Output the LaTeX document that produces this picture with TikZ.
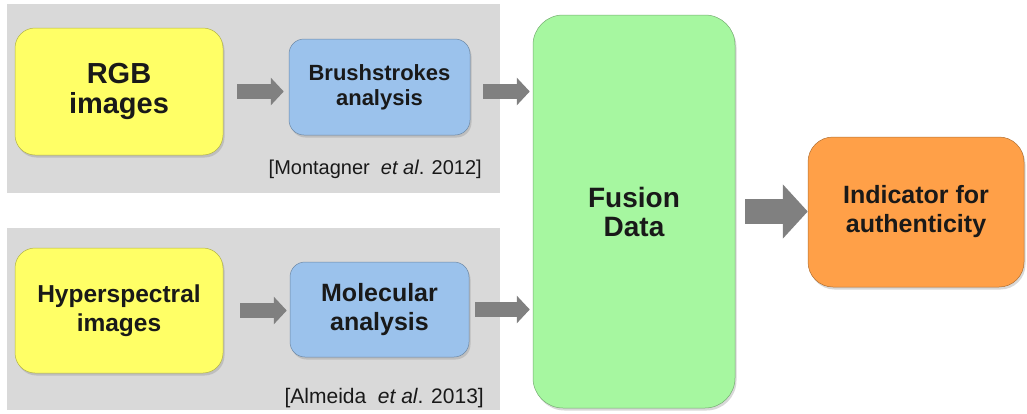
\documentclass[tikz,border=0pt]{standalone}
\usepackage{fontspec}
\setmainfont{Liberation Sans}
\usetikzlibrary{arrows.meta,shadows}

\definecolor{panelgray}{RGB}{217,217,217}
\definecolor{arrowgray}{RGB}{128,128,128}
\definecolor{srcyellow}{RGB}{255,255,102}
\definecolor{anablue}{RGB}{155,194,236}
\definecolor{fusegreen}{RGB}{166,247,160}
\definecolor{indorange}{RGB}{255,160,72}

\tikzset{
  box/.style={draw=#1!70!black, line width=0.5pt, fill=#1, align=center,
    inner sep=0pt, text=black!90,
    drop shadow={opacity=0.3, shadow xshift=1.5pt, shadow yshift=-2.5pt}},
  blockarrow/.style={draw=arrowgray, line width=15pt,
    -{Triangle[width=27pt,length=13pt]}},
  bigarrow/.style={draw=arrowgray, line width=25pt,
    -{Triangle[width=53pt,length=25pt]}},
  cite/.style={anchor=east, inner sep=0pt, text=black!90},
}

\begin{document}
\begin{tikzpicture}[x=1pt,y=-1pt]
    \useasboundingbox[fill=white] (0,0) rectangle (1027,413);

    % Gray panels behind the two pipelines
    \fill[panelgray] (7,4) rectangle (500,193);
    \fill[panelgray] (7,228) rectangle (500,410);

    % Upper pipeline
    \node[box=srcyellow, rounded corners=20pt, minimum width=208pt, minimum height=127pt,
      font=\bfseries\fontsize{29}{30}\selectfont] (rgb) at (119,91.5) {RGB\\images};
    \node[box=anablue, rounded corners=15pt, minimum width=181pt, minimum height=96pt,
      font=\bfseries\fontsize{22}{25}\selectfont] (brush) at (379.5,87) {Brushstrokes\\analysis};
    \node[cite, font=\fontsize{20}{24}\selectfont] (montagner) at (482,169)
      {[Montagner\ \ \textit{et al}. 2012]};

    % Lower pipeline
    \node[box=srcyellow, rounded corners=20pt, minimum width=208pt, minimum height=125pt,
      font=\bfseries\fontsize{24.5}{29}\selectfont] (hyper) at (119,310.5) {Hyperspectral\\images};
    \node[box=anablue, rounded corners=15pt, minimum width=179pt, minimum height=95pt,
      font=\bfseries\fontsize{25}{29}\selectfont] (mol) at (379.5,309.5) {Molecular\\analysis};
    \node[cite, font=\fontsize{21}{24}\selectfont] (almeida) at (484,398)
      {[Almeida\ \ \textit{et al}. 2013]};

    % Fusion and result
    \node[box=fusegreen, rounded corners=30pt, minimum width=202pt, minimum height=393pt,
      font=\bfseries\fontsize{28}{29}\selectfont] (fusion) at (634,211.5) {Fusion\\Data};
    \node[box=indorange, rounded corners=25pt, minimum width=216pt, minimum height=150pt,
      font=\bfseries\fontsize{25}{29}\selectfont] (ind) at (916,212) {Indicator for\\authenticity};

    % Block arrows
    \draw[blockarrow, shorten <=14pt, shorten >=5pt] (rgb.east) -- (rgb.east -| brush.west);
    \draw[blockarrow, shorten <=13pt, shorten >=3pt] (rgb.east -| brush.east) -- (rgb.east -| fusion.west);
    \draw[blockarrow, shorten <=17pt, shorten >=3pt] (hyper.east) -- (hyper.east -| mol.west);
    \draw[blockarrow, shorten <=6pt, shorten >=3pt] (mol.east) -- (mol.east -| fusion.west);
    \draw[bigarrow, shorten <=10pt, shorten >=0pt] (fusion.east) -- (fusion.east -| ind.west);
\end{tikzpicture}
\end{document}
